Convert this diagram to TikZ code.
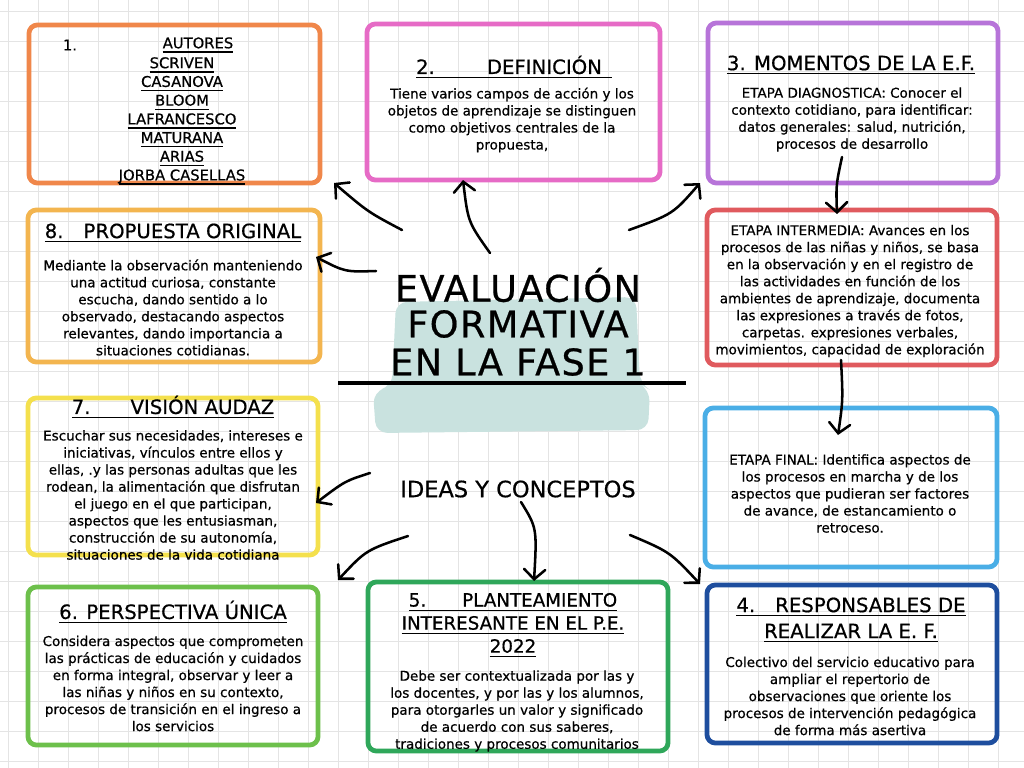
\documentclass[tikz,border=0pt]{standalone}
\usepackage{fontspec}
\setmainfont{DejaVu Sans}[FakeBold=0.6]
\usetikzlibrary{arrows.meta,positioning}

\newsavebox{\subbox}
\newcommand{\subr}[1]{\sbox{\subbox}{#1}\leavevmode\rlap{\vrule height -2.1pt depth 3.1pt width \wd\subbox}\usebox{\subbox}}

\definecolor{gridLine}{HTML}{E4E4E4}
\definecolor{autoresBox}{HTML}{F0874A}
\definecolor{definicionBox}{HTML}{E66BC6}
\definecolor{momentosBox}{HTML}{B774D9}
\definecolor{intermediaBox}{HTML}{E05A5E}
\definecolor{finalBox}{HTML}{4AAEE6}
\definecolor{responsablesBox}{HTML}{1E4E9E}
\definecolor{planteamientoBox}{HTML}{2FA75A}
\definecolor{perspectivaBox}{HTML}{6DC04B}
\definecolor{visionBox}{HTML}{F4E04D}
\definecolor{propuestaBox}{HTML}{F3B54F}
\definecolor{tituloBg}{HTML}{C9E2DF}

\begin{document}
\begin{tikzpicture}[x=0.025cm, y=-0.025cm,
  box/.style={draw=#1, line width=3.4pt, rounded corners=6pt, inner sep=0pt},
  head/.style={font=\fontsize{14}{18}\selectfont, align=center, inner sep=0pt},
  body/.style={font=\fontsize{9.6}{12.1}\selectfont, align=center, inner sep=0pt},
  autor/.style={font=\fontsize{10.5}{13.3}\selectfont, align=center, inner sep=0pt},
  titulo/.style={font=\fontsize{26}{28.5}\selectfont\addfontfeature{LetterSpace=4}, align=center, inner sep=0pt},
  flecha/.style={line width=1.8pt, line cap=round, -{Straight Barb[length=7pt,width=15pt,line cap=round]}}]
\useasboundingbox (0,0) rectangle (1024,768);
\fill[white] (0,0) rectangle (1024,768);

% grid paper
\foreach \gx in {8,38,...,1020} \draw[gridLine, line width=0.5pt] (\gx,0) -- (\gx,768);
\foreach \gy in {11,41,...,765} \draw[gridLine, line width=0.5pt] (0,\gy) -- (1024,\gy);

% brush stroke behind the title
\fill[tituloBg, rounded corners=8pt] (396,302) -- (636,297) -- (640,384) -- (650,390) -- (648,430) -- (376,433) -- (373,392) -- (392,386) -- cycle;

% title
\node[titulo] (titulo1) at (518,285) {EVALUACIÓN};
\node[titulo] (titulo2) at (518,324) {FORMATIVA};
\node[titulo] (titulo3) at (518,362) {EN LA FASE 1};
\draw[line width=2.6pt] (338,383) -- (686,383);
\node[font=\fontsize{16}{18}\selectfont, inner sep=0pt] (ideas) at (518,489) {IDEAS Y CONCEPTOS};

% boxes
\node[box=autoresBox, minimum width=7.275cm, minimum height=3.95cm] (autores) at (174.5,104) {};
\node[box=definicionBox, minimum width=7.325cm, minimum height=3.9cm] (definicion) at (513.5,102) {};
\node[box=momentosBox, minimum width=7.25cm, minimum height=4cm] (momentos) at (853,103) {};
\node[box=propuestaBox, minimum width=7.3cm, minimum height=3.8cm] (propuesta) at (174,286) {};
\node[box=intermediaBox, minimum width=7.25cm, minimum height=3.875cm] (intermedia) at (852,287.5) {};
\node[box=visionBox, minimum width=7.25cm, minimum height=3.925cm] (vision) at (173,476.5) {};
\node[box=finalBox, minimum width=7.3cm, minimum height=3.975cm] (final) at (851,487.5) {};
\node[box=perspectivaBox, minimum width=7.25cm, minimum height=3.95cm] (perspectiva) at (173,666) {};
\node[box=planteamientoBox, minimum width=7.5cm, minimum height=4.225cm] (planteamiento) at (518,666.5) {};
\node[box=responsablesBox, minimum width=7.25cm, minimum height=3.95cm] (responsables) at (852,664) {};

% 1
\node[autor] (num1) at (70,45) {1.};
\node[autor] (autoresHead) at (198,45) {\subr{AUTORES}};
\node[autor] (autoresList) at (182,121) {\subr{SCRIVEN}\\\subr{CASANOVA}\\\subr{BLOOM}\\\subr{LAFRANCESCO}\\\subr{MATURANA}\\\subr{ARIAS}\\\subr{JORBA CASELLAS}};

% 2
\node[head] (definicionHead) at (514,67) {\subr{2.\hspace{1.3cm}DEFINICIÓN\hspace{0.25cm}}};
\node[body] (definicionText) at (512,120) {Tiene varios campos de acción y los\\objetos de aprendizaje se distinguen\\como objetivos centrales de la\\propuesta,};

% 3
\node[head] (momentosHead) at (851,65) {\subr{3. MOMENTOS DE LA E.F.}};
\node[body] (momentosText) at (852,119.5) {ETAPA DIAGNOSTICA: Conocer el\\contexto cotidiano, para identificar:\\datos generales: salud, nutrición,\\procesos de desarrollo};
\node[body] (intermediaText) at (850,291) {ETAPA INTERMEDIA: Avances en los\\procesos de las niñas y niños, se basa\\en la observación y en el registro de\\las actividades en función de los\\ambientes de aprendizaje, documenta\\las expresiones a través de fotos,\\carpetas. expresiones verbales,\\movimientos, capacidad de exploración};
\node[body] (finalText) at (850,493.5) {ETAPA FINAL: Identifica aspectos de\\los procesos en marcha y de los\\aspectos que pudieran ser factores\\de avance, de estancamiento o\\retroceso.};

% 4
\node[head, font=\fontsize{14}{18.5}\selectfont] (responsablesHead) at (851,620) {\subr{4.\hspace{0.5cm}RESPONSABLES DE}\\\subr{REALIZAR LA E. F.}};
\node[body] (responsablesText) at (850,696) {Colectivo del servicio educativo para\\ampliar el repertorio de\\observaciones que oriente los\\procesos de intervención pedagógica\\de forma más asertiva};

% 5
\node[head, font=\fontsize{13}{16.4}\selectfont] (planteamientoHead) at (513,625) {\subr{5.\hspace{0.9cm}PLANTEAMIENTO}\\\subr{INTERESANTE EN EL P.E.}\\\subr{2022}};
\node[body] (planteamientoText) at (517,711) {Debe ser contextualizada por las y\\los docentes, y por las y los alumnos,\\para otorgarles un valor y significado\\de acuerdo con sus saberes,\\tradiciones y procesos comunitarios};

% 6
\node[head] (perspectivaHead) at (173,612) {\subr{6. PERSPECTIVA ÚNICA}};
\node[body] (perspectivaText) at (173,683.5) {Considera aspectos que comprometen\\las prácticas de educación y cuidados\\en forma integral, observar y leer a\\las niñas y niños en su contexto,\\procesos de transición en el ingreso a\\los servicios};

% 7
\node[head] (visionHead) at (173,407) {\subr{7.\hspace{1cm}VISIÓN AUDAZ}};
\node[body] (visionText) at (173,495) {Escuchar sus necesidades, intereses e\\iniciativas, vínculos entre ellos y\\ellas, .y las personas adultas que les\\rodean, la alimentación que disfrutan\\el juego en el que participan,\\aspectos que les entusiasman,\\construcción de su autonomía,\\situaciones de la vida cotidiana};

% 8
\node[head] (propuestaHead) at (173,233) {\subr{8.\hspace{0.5cm}PROPUESTA ORIGINAL}};
\node[body] (propuestaText) at (173,307.5) {Mediante la observación manteniendo\\una actitud curiosa, constante\\escucha, dando sentido a lo\\observado, destacando aspectos\\relevantes, dando importancia a\\situaciones cotidianas.};

% arrow ends
\coordinate (a1) at (402,230);
\coordinate (a2) at (490,253);
\coordinate (a3) at (629,230);
\coordinate (a8) at (376,271);
\coordinate (a7) at (370,473);
\coordinate (a6) at (408,536);
\coordinate (a5) at (521,502);
\coordinate (a4) at (630,535);
\coordinate (h1) at (334,183);
\coordinate (h2) at (463,180);
\coordinate (h3) at (700,183);
\coordinate (h8) at (316,257);
\coordinate (h7) at (316,503);
\coordinate (h6) at (338,580);
\coordinate (h5) at (534,581);
\coordinate (h4) at (700,584);
\coordinate (m1) at (842,157);
\coordinate (m2) at (837,214);
\coordinate (m3) at (841,360);
\coordinate (m4) at (838,435);

\draw[flecha] (a1) .. controls (368,212) .. (h1);
\draw[flecha] (a2) .. controls (468,222) .. (h2);
\draw[flecha] (a3) .. controls (673,214) .. (h3);
\draw[flecha] (a8) .. controls (345,272) .. (h8);
\draw[flecha] (a7) .. controls (345,481) .. (h7);
\draw[flecha] (a6) .. controls (366,550) .. (h6);
\draw[flecha] (a5) .. controls (537,528) .. (h5);
\draw[flecha] (a4) .. controls (670,552) .. (h4);
\draw[flecha] (m1) .. controls (836,185) .. (m2);
\draw[flecha] (m3) .. controls (843,400) .. (m4);
\end{tikzpicture}
\end{document}
